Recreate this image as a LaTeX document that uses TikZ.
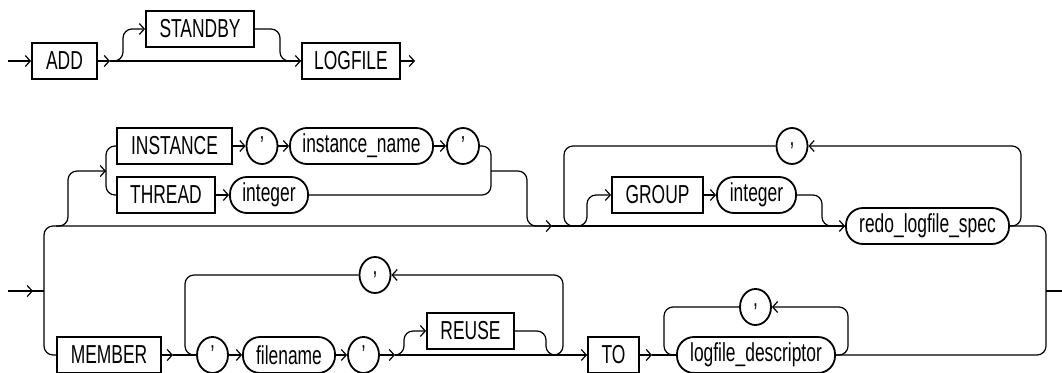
\documentclass[tikz,border=0pt]{standalone}
\usepackage{fontspec}
\setmainfont{Liberation Sans}[FakeStretch=0.67]
\usetikzlibrary{arrows.meta,shapes.geometric}

\tikzset{
  rail/.style={line width=1.2pt, rounded corners=9pt},
  go/.style={rail, -{Straight Barb[length=5pt,width=11pt,line width=1.2pt]}},
  term/.style={draw, line width=1.8pt, minimum height=36pt, inner sep=0pt,
    font=\fontsize{26}{30}\selectfont},
  nonterm/.style={term, rounded corners=17pt},
  sym/.style={term, ellipse, minimum width=31pt}
}

\begin{document}
\begin{tikzpicture}[x=1pt, y=-1pt]
    \useasboundingbox (0,0) rectangle (1062,372);

    % First rail: ADD [STANDBY] LOGFILE
    \coordinate (start1) at (8,61);
    \coordinate (fork1) at (110,61);
    \coordinate (end1) at (415,61);
    \node[term, minimum width=65pt] (add) at (64.5,61) {ADD};
    \node[term, minimum width=108pt] (standby) at (200,29) {STANDBY};
    \node[term, minimum width=98pt] (logfile) at (351,61) {LOGFILE};

    \draw[go] (start1) -- (add.west);
    \draw[go] (add.east) -- (fork1);
    \draw[go] (fork1) -- (logfile.west);
    \draw[go] (fork1) -- ++(13,0) |- (standby.west);
    \draw[rail] (standby.east) -- (280,29) |- (logfile.west);
    \draw[go] (logfile.east) -- (end1);

    % Second rail: keywords and terms
    \node[term, minimum width=115pt] (instance) at (174.5,146) {INSTANCE};
    \node[sym] (q1) at (262,146) {'};
    \node[nonterm, minimum width=143pt] (instname) at (361.5,146) {instance\_name};
    \node[sym, minimum width=32pt] (q2) at (463,146) {'};
    \node[term, minimum width=98pt] (thread) at (166,195) {THREAD};
    \node[nonterm, minimum width=78pt] (int1) at (269,195) {integer};

    \node[sym] (comma1) at (792,146) {,};
    \node[term, minimum width=91pt] (group) at (657.5,195) {GROUP};
    \node[nonterm, minimum width=79pt] (int2) at (756.5,195) {integer};
    \node[nonterm, minimum width=163pt] (redo) at (927.5,226) {redo\_logfile\_spec};

    \node[term, minimum width=104pt] (member) at (109,355) {MEMBER};
    \node[sym] (comma2) at (375,275) {,};
    \node[sym] (q3) at (212.5,355) {'};
    \node[nonterm, minimum width=92pt] (filename) at (289,355) {filename};
    \node[sym] (q4) at (363.5,355) {'};
    \node[term, minimum width=87pt] (reuse) at (470.5,331) {REUSE};
    \node[term, minimum width=51pt] (to) at (613.5,355) {TO};
    \node[sym] (comma3) at (755.5,307) {,};
    \node[nonterm, minimum width=158pt] (ldesc) at (756,355) {logfile\_descriptor};

    % Entry and split into the two rows
    \coordinate (start2) at (8,291);
    \coordinate (split) at (44,291);
    \coordinate (arrA) at (552,226);
    \coordinate (end2) at (1062,291);
    \draw[rail] (start2) -- (split);
    \draw[go] (start2) -- (33,291);
    \draw[go] (split) |- (arrA);
    \draw[rail] (split) |- (member.west);

    % Optional INSTANCE / THREAD choice
    \draw[go] (56,226) -- (68,226) |- (106,171);
    \draw[rail] (instance.west) -| (106,171) |- (thread.west);
    \draw[go] (instance.east) -- (q1.west);
    \draw[go] (q1.east) -- (instname.west);
    \draw[go] (instname.east) -- (q2.west);
    \draw[go] (thread.east) -- (int1.west);
    \draw[rail] (q2.east) -| (491,171) |- (int1.east);
    \draw[rail] (491,171) -- (527,171) |- (arrA);

    % GROUP loop with comma
    \draw[go] (arrA) -- (redo.west);
    \draw[go] (redo.east) -- (1021,226) |- (comma1.east);
    \draw[rail] (comma1.west) -- (564,146) |- (576,226);
    \draw[go] (577,226) -- (587,226) |- (group.west);
    \draw[go] (group.east) -- (int2.west);
    \draw[rail] (int2.east) -- (822,195) |- (redo.west);

    % MEMBER row with filename loop
    \draw[go] (member.east) -- (173,355);
    \draw[rail] (173,355) -- (q3.west);
    \draw[go] (552,355) -- (563,355) |- (comma2.east);
    \draw[rail] (comma2.west) -- (185,275) |- (q3.west);
    \draw[go] (q3.east) -- (filename.west);
    \draw[go] (filename.east) -- (q4.west);
    \draw[go] (q4.east) -- (395,355);
    \draw[go] (395,355) -- (to.west);
    \draw[go] (395,355) -- (404,355) |- (reuse.west);
    \draw[rail] (reuse.east) -- (546,331) |- (to.west);

    % TO and logfile_descriptor loop
    \draw[go] (to.east) -- (652,355);
    \draw[rail] (652,355) -- (ldesc.west);
    \draw[go] (ldesc.east) -- (848,355) |- (comma3.east);
    \draw[rail] (comma3.west) -- (664,307) |- (ldesc.west);

    % Exit
    \draw[rail] (redo.east) -- (1046,226) |- (ldesc.east);
    \draw[rail] (1046,291) -- (end2);
\end{tikzpicture}
\end{document}
